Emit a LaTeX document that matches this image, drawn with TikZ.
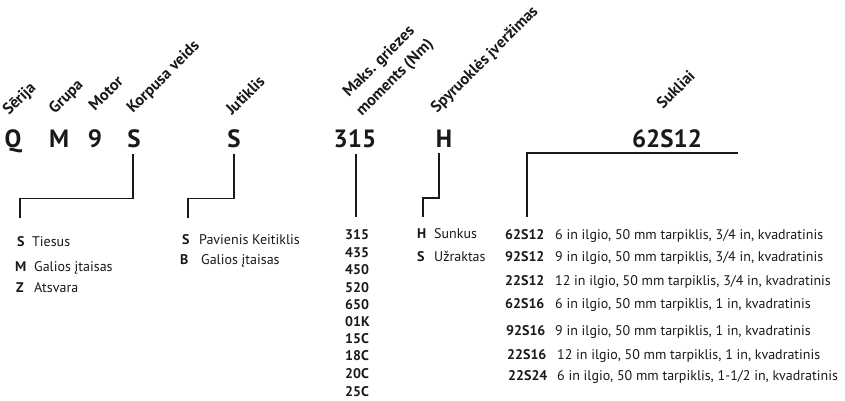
\documentclass[tikz,border=0pt]{standalone}
\usepackage{fontspec}
\setmainfont{PT Sans}
\begin{document}
\begin{tikzpicture}[x=1pt,y=-1pt,
  big/.style={font=\fontsize{25}{25}\selectfont\bfseries, anchor=base, inner sep=0pt, text=black!90},
  lab/.style={font=\fontsize{16}{17}\selectfont\bfseries, rotate=45, anchor=base west, inner sep=0pt, text=black!90},
  item/.style={font=\fontsize{14}{16}\selectfont, anchor=base west, inner sep=0pt, text=black!90},
  key/.style={font=\fontsize{14}{16}\selectfont\bfseries, anchor=base west, inner sep=0pt, text=black!90},
  wire/.style={line width=1.6pt, draw=black!90, line join=miter}]
\useasboundingbox (0,0) rectangle (845,401);
% rotated headings
\node[lab] (hSer) at (9,116) {Sērija};
\node[lab] (hGrp) at (55,115) {Grupa};
\node[lab] (hMot) at (95,112) {Motor};
\node[lab] (hKor) at (133,114) {Korpusa veids};
\node[lab] (hJut) at (232,116) {Jutiklis};
\node[lab] (hMak) at (349,98) {Maks. griezes};
\node[lab] (hMom) at (362,117) {moments (Nm)};
\node[lab] (hSpy) at (437,114) {Spyruoklės įveržimas};
\node[lab] (hSuk) at (663,110) {Sukliai};
% code letters
\node[big] (cQ) at (13,147) {Q};
\node[big] (cM) at (59,147) {M};
\node[big] (c9) at (95,147) {9};
\node[big] (cS) at (134,147) {S};
\node[big] (cJ) at (234,147) {S};
\node[big] (cT) at (355,147) {315};
\node[big] (cH) at (444,147) {H};
\node[big] (cK) at (667,147) {62S12};
% connector ends
\coordinate (eS) at (20,218);
\coordinate (eJ) at (188,218);
\coordinate (eT) at (356,217);
\coordinate (eH) at (423,217);
\coordinate (kR) at (738,153);
\coordinate (eK) at (527,217);
\draw[wire] (cS.south) ++(-1,6) -- ++(0,45) -| (eS);
\draw[wire] (cJ.south) ++(0,6) -- ++(0,45) -| (eJ);
\draw[wire] (cT.south) ++(1,6) -- (eT);
\draw[wire] (cH.south) ++(-5,6) -- ++(0,45) -| (eH);
\draw[wire] (kR) -| (eK);
% Korpusa list
\node[key] (kS1) at (17,246) {S};
\node[item] (tS1) at (32,246) {Tiesus};
\node[key] (kS2) at (15,271) {M};
\node[item] (tS2) at (34,271) {Galios įtaisas};
\node[key] (kS3) at (16,292) {Z};
\node[item] (tS3) at (34,292) {Atsvara};
% Jutiklis list
\node[key] (kJ1) at (182,244) {S};
\node[item] (tJ1) at (199,244) {Pavienis Keitiklis};
\node[key] (kJ2) at (180,264) {B};
\node[item] (tJ2) at (201,264) {Galios įtaisas};
% torque list
\node[key] (n1) at (345,239) {315};
\node[key] (n2) at (345,257) {435};
\node[key] (n3) at (345,274) {450};
\node[key] (n4) at (345,292) {520};
\node[key] (n5) at (345,309) {650};
\node[key] (n6) at (345,326) {01K};
\node[key] (n7) at (345,343) {15C};
\node[key] (n8) at (345,360) {18C};
\node[key] (n9) at (345,378) {20C};
\node[key] (n10) at (345,396) {25C};
% spring list
\node[key] (kH1) at (417,238) {H};
\node[item] (tH1) at (434,238) {Sunkus};
\node[key] (kH2) at (417,261) {S};
\node[item] (tH2) at (434,261) {Užraktas};
% shaft list
\node[key] (s1) at (505,239) {62S12};
\node[item] (d1) at (555,239) {6 in ilgio, 50 mm tarpiklis, 3/4 in, kvadratinis};
\node[key] (s2) at (505,261) {92S12};
\node[item] (d2) at (555,261) {9 in ilgio, 50 mm tarpiklis, 3/4 in, kvadratinis};
\node[key] (s3) at (505,285) {22S12};
\node[item] (d3) at (555,285) {12 in ilgio, 50 mm tarpiklis, 3/4 in, kvadratinis};
\node[key] (s4) at (505,308) {62S16};
\node[item] (d4) at (555,308) {6 in ilgio, 50 mm tarpiklis, 1 in, kvadratinis};
\node[key] (s5) at (506,335) {92S16};
\node[item] (d5) at (555,335) {9 in ilgio, 50 mm tarpiklis, 1 in, kvadratinis};
\node[key] (s6) at (507,359) {22S16};
\node[item] (d6) at (557,359) {12 in ilgio, 50 mm tarpiklis, 1 in, kvadratinis};
\node[key] (s7) at (508,380) {22S24};
\node[item] (d7) at (557,380) {6 in ilgio, 50 mm tarpiklis, 1-1/2 in, kvadratinis};
\end{tikzpicture}
\end{document}
